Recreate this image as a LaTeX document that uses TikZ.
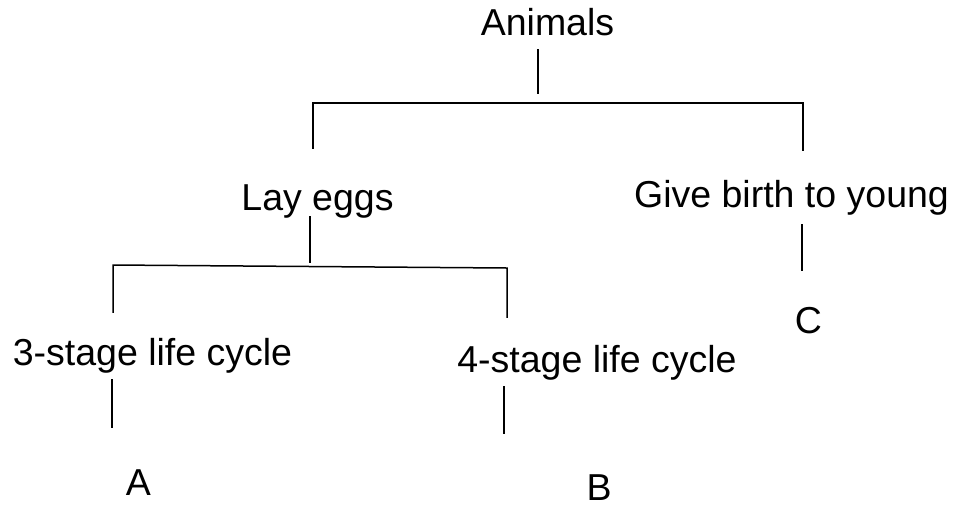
\documentclass[tikz,border=0pt]{standalone}
\usepackage{fontspec}
\setmainfont{Liberation Sans}
\begin{document}
\begin{tikzpicture}[x=1pt,y=-1pt,
  lbl/.style={anchor=base, inner sep=0pt, font=\fontsize{37.5}{45}\selectfont},
  conn/.style={line width=1.5pt, line cap=rect, line join=miter}]
\useasboundingbox (0,0) rectangle (957,507);
% labels
\node[lbl] (animals) at (547.5,35) {Animals};
\node[lbl] (lay) at (317.5,210) {Lay eggs};
\node[lbl] (give) at (791.5,207) {Give birth to young};
\node[lbl] (three) at (152.5,365) {3-stage life cycle};
\node[lbl] (four) at (597,372) {4-stage life cycle};
\node[lbl] (A) at (138.5,495) {A};
\node[lbl] (B) at (599,500) {B};
\node[lbl] (C) at (808.5,333) {C};
% connector end points
\coordinate (s1a) at (538,50);   \coordinate (s1b) at (538,93);
\coordinate (b1l) at (313,148);  \coordinate (b1tl) at (313,103);
\coordinate (b1tr) at (803,103); \coordinate (b1r) at (803,150);
\coordinate (s2a) at (310,217);  \coordinate (s2b) at (310,262);
\coordinate (b2l) at (113,312);  \coordinate (b2tl) at (113,265);
\coordinate (b2tr) at (507,268); \coordinate (b2r) at (507,317);
\coordinate (s3a) at (802,225);  \coordinate (s3b) at (802,270);
\coordinate (s4a) at (112,380);  \coordinate (s4b) at (112,427);
\coordinate (s5a) at (504,387);  \coordinate (s5b) at (504,433);
% connectors
\draw[conn] (s1a) -- (s1b);
\draw[conn] (b1l) -- (b1tl) -- (b1tr) -- (b1r);
\draw[conn] (s2a) -- (s2b);
\draw[conn] (b2l) -- (b2tl) -- (b2tr) -- (b2r);
\draw[conn] (s3a) -- (s3b);
\draw[conn] (s4a) -- (s4b);
\draw[conn] (s5a) -- (s5b);
\end{tikzpicture}
\end{document}
